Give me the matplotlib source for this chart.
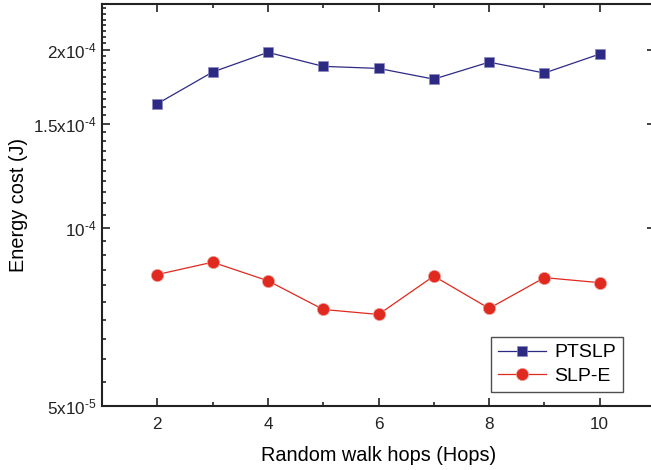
import matplotlib
matplotlib.use('Agg')
import matplotlib.pyplot as plt
from matplotlib.ticker import FixedLocator, MultipleLocator, NullFormatter, FixedFormatter

# Daten
hops = [2, 3, 4, 5, 6, 7, 8, 9, 10]
ptslp = [1.621e-4, 1.834e-4, 1.980e-4, 1.875e-4, 1.860e-4, 1.784e-4, 1.906e-4, 1.827e-4, 1.967e-4]
slp_e = [8.34e-5, 8.75e-5, 8.14e-5, 7.28e-5, 7.14e-5, 8.29e-5, 7.31e-5, 8.24e-5, 8.08e-5]

y_ticks = [5e-5, 1e-4, 1.5e-4, 2e-4]
y_tick_labels = [r'5x10$^{\text{-5}}$', r'10$^{\text{-4}}$', r'1.5x10$^{\text{-4}}$', r'2x10$^{\text{-4}}$']
x_ticks = [2, 4, 6, 8, 10]

plt.rcParams['font.family'] = ['Liberation Sans', 'DejaVu Sans']
plt.rcParams['mathtext.fontset'] = 'custom'
plt.rcParams['mathtext.rm'] = 'Liberation Sans'
plt.rcParams['mathtext.it'] = 'Liberation Sans'

fig = plt.figure(figsize=(6.51, 4.70), dpi=100)
ax = fig.add_axes([102 / 651, 64 / 470, 553 / 651, 402 / 470])

blue = '#2d2a83'
red = '#e0291f'

ax.plot(hops, ptslp, color=blue, lw=0.9, marker='s', markersize=7.8,
        markerfacecolor=blue, markeredgecolor='#8a88c0', markeredgewidth=0.5, label='PTSLP')
ax.plot(hops, slp_e, color=red, lw=0.9, marker='o', markersize=8.8,
        markerfacecolor=red, markeredgecolor='#f0a09a', markeredgewidth=0.5, label='SLP-E')

ax.set_yscale('log')
ax.set_ylim(5e-5, 2.39e-4)
ax.set_xlim(1, 11)

ax.yaxis.set_major_locator(FixedLocator(y_ticks))
ax.yaxis.set_major_formatter(FixedFormatter(y_tick_labels))
ax.yaxis.set_minor_locator(MultipleLocator(5e-6))
ax.yaxis.set_minor_formatter(NullFormatter())
ax.xaxis.set_major_locator(FixedLocator(x_ticks))
ax.xaxis.set_minor_locator(MultipleLocator(1))

ax.tick_params(which='both', direction='in', top=True, right=True, width=1.2, colors='#222222')
ax.tick_params(which='major', length=6, labelsize=12.3)
ax.tick_params(which='minor', length=3)
ax.tick_params(axis='x', which='major', pad=8)
ax.tick_params(axis='y', which='major', pad=4)
for s in ax.spines.values():
    s.set_linewidth(1.5)
    s.set_color('#222222')

ax.set_xlabel('Random walk hops (Hops)', fontsize=14.3, labelpad=10)
ax.set_ylabel('Energy cost (J)', fontsize=14.3, labelpad=3)

leg = fig.legend(loc='upper left', bbox_to_anchor=(491 / 651, 1 - 337 / 470), fontsize=14,
                 frameon=True, fancybox=False, handlelength=2.5, borderpad=0.35,
                 labelspacing=0.3, handletextpad=0.4, borderaxespad=0)
leg.get_frame().set_edgecolor('#222222')
leg.get_frame().set_linewidth(1.0)

fig.savefig('out.png', dpi=100)
